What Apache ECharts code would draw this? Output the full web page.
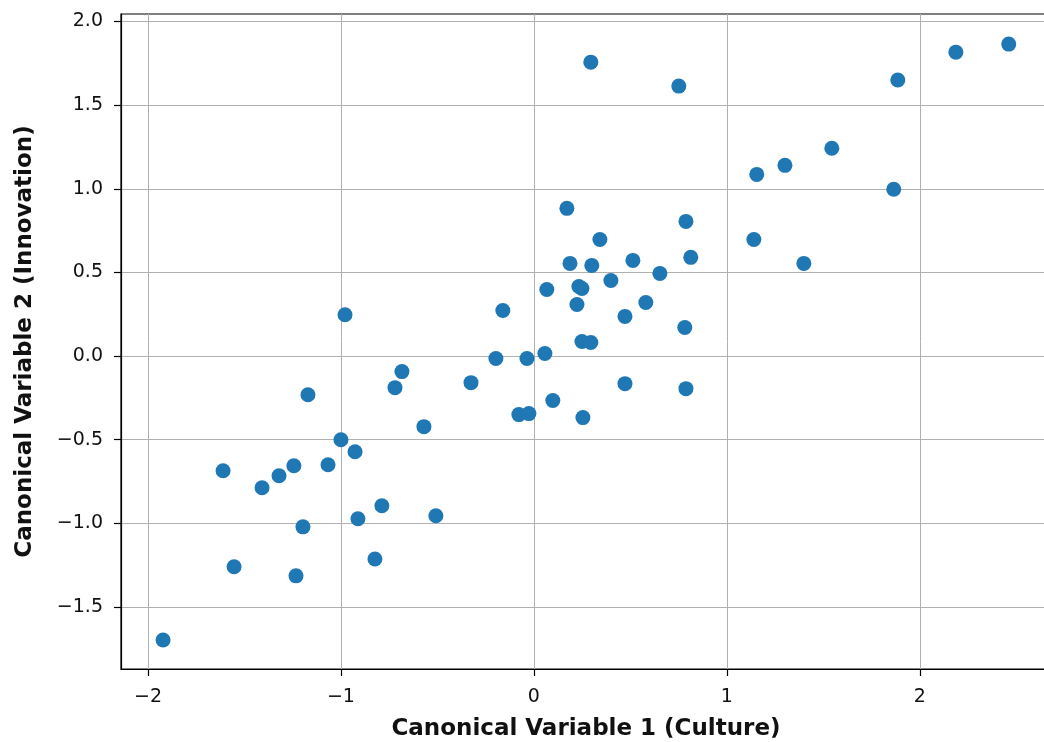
<!DOCTYPE html>
<html>
<head>
<meta charset="utf-8">
<script src="https://cdn.jsdelivr.net/npm/echarts@6/dist/echarts.min.js"></script>
<style>html,body{margin:0;padding:0;background:#fff;overflow:hidden}#c{width:1044px;height:742px}</style>
</head>
<body>
<div id="c"></div>
<script>
const xValues = [-1.922,-1.611,-1.554,-1.409,-1.321,-1.244,-1.233,-1.197,-1.171,-1.067,-1.0,-0.979,-0.927,-0.912,-0.824,-0.788,-0.720,-0.684,-0.570,-0.508,-0.326,-0.197,-0.161,-0.078,-0.026,-0.036,0.057,0.067,0.098,0.171,0.187,0.223,0.233,0.249,0.249,0.254,0.295,0.295,0.300,0.342,0.399,0.472,0.472,0.513,0.580,0.653,0.751,0.782,0.788,0.788,0.813,1.140,1.155,1.301,1.399,1.544,1.865,1.886,2.187,2.461];
const yValues = [-1.698,-0.686,-1.260,-0.787,-0.716,-0.656,-1.314,-1.021,-0.231,-0.650,-0.500,0.247,-0.572,-0.973,-1.213,-0.895,-0.189,-0.093,-0.422,-0.955,-0.159,-0.015,0.272,-0.350,-0.344,-0.015,0.015,0.398,-0.266,0.883,0.554,0.308,0.416,0.404,0.087,-0.368,0.081,1.757,0.542,0.697,0.452,0.237,-0.165,0.572,0.320,0.494,1.614,0.171,0.805,-0.195,0.590,0.697,1.086,1.140,0.554,1.242,0.997,1.650,1.817,1.865];
const xTicks = [-2,-1,0,1,2];
const yTicks = [-1.5,-1.0,-0.5,0.0,0.5,1.0,1.5,2.0];
const xTitle = 'Canonical Variable 1 (Culture)';
const yTitle = 'Canonical Variable 2 (Innovation)';

const points = xValues.map((x, i) => [x, yValues[i]]);
const font = 'DejaVu Sans';
const chart = echarts.init(document.getElementById('c'), null, {renderer: 'canvas', width: 1044, height: 742});
chart.setOption({
  animation: false,
  backgroundColor: '#fff',
  grid: {left: 121, top: 14, width: 930, height: 655, outerBoundsMode: 'none', show: true, borderColor: '#000', borderWidth: 1.2, containLabel: false},
  xAxis: {
    type: 'value', min: -2.14, max: 2.68, splitNumber: 5,
    name: xTitle, nameLocation: 'middle', nameGap: 49,
    nameTextStyle: {fontFamily: font, fontWeight: 'bold', fontSize: 23, color: '#111'},
    axisLine: {show: true, onZero: false, lineStyle: {color: '#000', width: 1.2}},
    axisTick: {show: true, length: 7, customValues: xTicks, lineStyle: {color: '#000', width: 1.2}},
    axisLabel: {customValues: xTicks, margin: 19, fontFamily: font, fontSize: 19, color: '#111',
      formatter: v => (v < 0 ? '\u2212' + Math.abs(v) : String(v))},
    splitLine: {show: true, lineStyle: {color: '#b0b0b0', width: 1}}
  },
  yAxis: {
    type: 'value', min: -1.871, max: 2.045, splitNumber: 8,
    name: yTitle, nameLocation: 'middle', nameGap: 84,
    nameTextStyle: {fontFamily: font, fontWeight: 'bold', fontSize: 23, color: '#111'},
    axisLine: {show: true, onZero: false, lineStyle: {color: '#000', width: 1.2}},
    axisTick: {show: true, length: 7, customValues: yTicks, lineStyle: {color: '#000', width: 1.2}},
    axisLabel: {customValues: yTicks, margin: 18, fontFamily: font, fontSize: 19, color: '#111',
      formatter: v => (v < 0 ? '\u2212' + Math.abs(v).toFixed(1) : v.toFixed(1))},
    splitLine: {show: true, lineStyle: {color: '#b0b0b0', width: 1}}
  },
  series: [{
    type: 'scatter', data: points, symbolSize: 15,
    itemStyle: {color: '#1f77b4', opacity: 1}
  }]
});
</script>
</body>
</html>
